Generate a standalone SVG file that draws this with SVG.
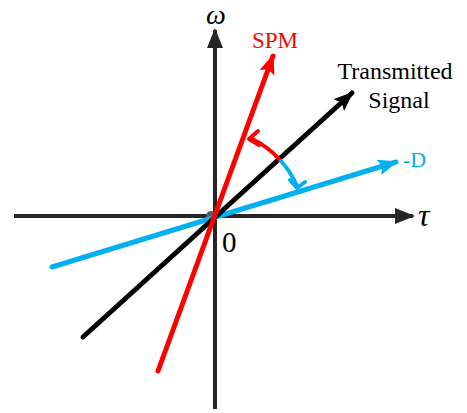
<svg xmlns="http://www.w3.org/2000/svg" width="467" height="413" viewBox="0 0 467 413">
<defs>
<style>
.t{font-family:"Liberation Serif","Times New Roman",serif}
.ax{stroke:#262626;stroke-width:4;fill:none}
</style>
<marker id="ha" markerUnits="userSpaceOnUse" viewBox="0 0 20 16" refX="18" refY="8" markerWidth="20" markerHeight="16" orient="auto"><path d="M0,0 L20,8 L0,16 Z" fill="#262626"/></marker>
<marker id="hr" markerUnits="userSpaceOnUse" viewBox="0 0 20 16" refX="18" refY="8" markerWidth="20" markerHeight="16" orient="auto"><path d="M0,0 L20,8 L0,16 L4,8 Z" fill="#ff0000"/></marker>
<marker id="hk" markerUnits="userSpaceOnUse" viewBox="0 0 20 16" refX="18" refY="8" markerWidth="20" markerHeight="16" orient="auto"><path d="M0,0 L20,8 L0,16 L4,8 Z" fill="#000"/></marker>
<marker id="hc" markerUnits="userSpaceOnUse" viewBox="0 0 20 16" refX="18" refY="8" markerWidth="20" markerHeight="16" orient="auto"><path d="M0,0 L20,8 L0,16 L4,8 Z" fill="#00b0f0"/></marker>
</defs>
<rect width="467" height="413" fill="#fff"/>
<g id="axes">
<line class="ax" x1="215" y1="409" x2="215" y2="30" marker-end="url(#ha)"/>
<line class="ax" x1="14" y1="216" x2="413" y2="216" marker-end="url(#ha)"/>
<circle cx="211" cy="216" r="5" fill="#595959"/>
</g>
<g id="connectors">
<line x1="52" y1="267" x2="396" y2="162" stroke="#00b0f0" stroke-width="5" stroke-linecap="round" marker-end="url(#hc)"/>
<line x1="83" y1="337" x2="352" y2="93" stroke="#000" stroke-width="5" stroke-linecap="round" marker-end="url(#hk)"/>
<line x1="158" y1="371" x2="273" y2="56" stroke="#ff0000" stroke-width="5" stroke-linecap="round" marker-end="url(#hr)"/>
<path d="M280,160 A89,89 0 0 0 250,138" stroke="#ff0000" stroke-width="4" fill="none"/>
<polyline points="258,131 249,139 259,145" stroke="#ff0000" stroke-width="4" fill="none" stroke-linecap="round" stroke-linejoin="round"/>
<path d="M280,160 A89,89 0 0 1 297,186" stroke="#00b0f0" stroke-width="4" fill="none"/>
<polyline points="290,180 297,188 305,182" stroke="#00b0f0" stroke-width="4" fill="none" stroke-linecap="round" stroke-linejoin="round"/>
</g>
<g id="labels">
<text class="t" x="216" y="24" font-size="28" font-style="italic" text-anchor="middle">ω</text>
<text class="t" x="418" y="226" font-size="32" font-style="italic">τ</text>
<text class="t" x="222" y="252" font-size="29">0</text>
<text class="t" x="252" y="48" font-size="23" fill="#ff0000">SPM</text>
<text class="t" x="395" y="79" font-size="24" text-anchor="middle">Transmitted</text>
<text class="t" x="399" y="108" font-size="24" text-anchor="middle">Signal</text>
<text class="t" x="403" y="167" font-size="22" fill="#00b0f0">-D</text>
</g>
</svg>
